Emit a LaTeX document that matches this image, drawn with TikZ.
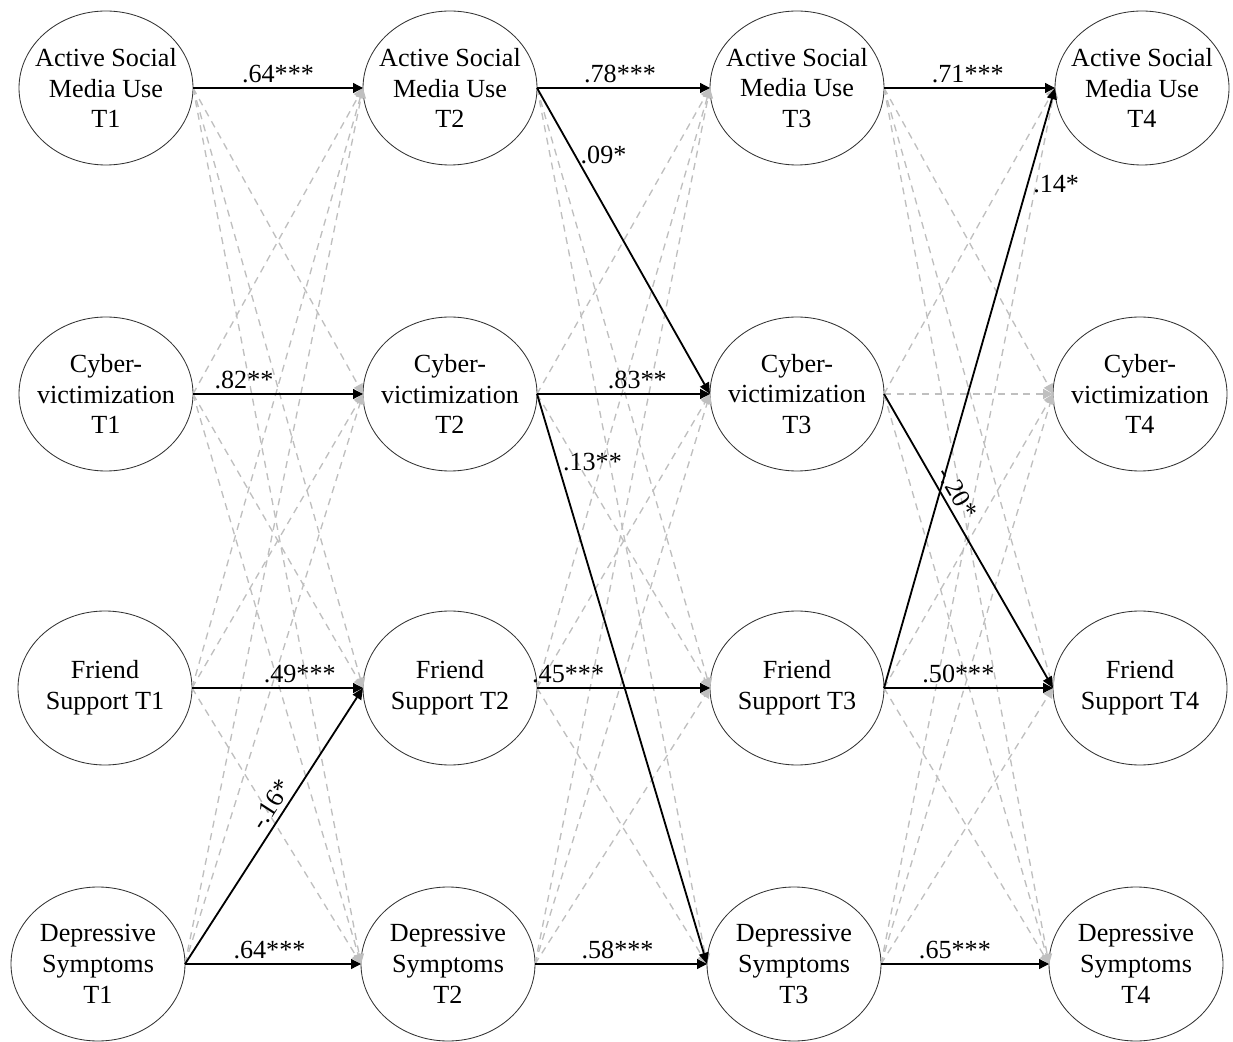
\documentclass[tikz,border=0pt]{standalone}
\usepackage{fontspec}
\setmainfont{Liberation Serif}
\usepackage{tikz}
\usetikzlibrary{positioning, arrows, arrows.meta, shapes.geometric}

\begin{document}
\begin{tikzpicture}[
    every node/.style={font=\fontsize{18.6}{22}\selectfont}, % Times-like text everywhere
    var/.style={draw=black!80, ellipse, minimum width=4.35cm, minimum height=3.85cm,
        inner xsep=-0.45cm, inner ysep=0pt, outer sep=0pt, align=center, line width=0.6pt},
    arpath/.style={-{Triangle[length=7pt, width=7pt]}, line width=0.9pt},
    crosssig/.style={-{Triangle[length=8pt, width=7pt]}, line width=1.3pt},
    crossns/.style={-{Triangle[length=7pt, width=7pt]}, draw=black!25,
        dash pattern=on 5pt off 4pt, line width=0.95pt}
]
    \useasboundingbox (0, 0) rectangle (30.825, -26.05);

    % Wave 1 (left column)
    \node[var] (Asm1) at (2.65, -2.2) {Active Social\\Media Use\\T1};
    \node[var] (Cyb1) at (2.65, -9.85) {Cyber-\\victimization\\T1};
    \node[var] (Fri1) at (2.625, -17.2) {Friend\\Support T1};
    \node[var] (Dep1) at (2.45, -24.1) {Depressive\\Symptoms\\T1};

    % Wave 2
    \node[var] (Asm2) at (11.25, -2.2) {Active Social\\Media Use\\T2};
    \node[var] (Cyb2) at (11.25, -9.85) {Cyber-\\victimization\\T2};
    \node[var] (Fri2) at (11.25, -17.2) {Friend\\Support T2};
    \node[var] (Dep2) at (11.2, -24.1) {Depressive\\Symptoms\\T2};

    % Wave 3
    \node[var] (Asm3) at (19.925, -2.2) {Active Social\\Media Use\\T3};
    \node[var] (Cyb3) at (19.925, -9.85) {Cyber-\\victimization\\T3};
    \node[var] (Fri3) at (19.925, -17.2) {Friend\\Support T3};
    \node[var] (Dep3) at (19.85, -24.1) {Depressive\\Symptoms\\T3};

    % Wave 4 (right column)
    \node[var] (Asm4) at (28.55, -2.2) {Active Social\\Media Use\\T4};
    \node[var] (Cyb4) at (28.5, -9.85) {Cyber-\\victimization\\T4};
    \node[var] (Fri4) at (28.5, -17.2) {Friend\\Support T4};
    \node[var] (Dep4) at (28.4, -24.1) {Depressive\\Symptoms\\T4};

    % 1. Non-significant cross-lagged paths, T1 -> T2 (dashed grey)
    \draw[crossns] (Asm1.east) -- (Cyb2.west);
    \draw[crossns] (Asm1.east) -- (Fri2.west);
    \draw[crossns] (Asm1.east) -- (Dep2.west);
    \draw[crossns] (Cyb1.east) -- (Asm2.west);
    \draw[crossns] (Cyb1.east) -- (Fri2.west);
    \draw[crossns] (Cyb1.east) -- (Dep2.west);
    \draw[crossns] (Fri1.east) -- (Asm2.west);
    \draw[crossns] (Fri1.east) -- (Cyb2.west);
    \draw[crossns] (Fri1.east) -- (Dep2.west);
    \draw[crossns] (Dep1.east) -- (Asm2.west);
    \draw[crossns] (Dep1.east) -- (Cyb2.west);

    % 2. Non-significant cross-lagged paths, T2 -> T3
    \draw[crossns] (Asm2.east) -- (Fri3.west);
    \draw[crossns] (Asm2.east) -- (Dep3.west);
    \draw[crossns] (Cyb2.east) -- (Asm3.west);
    \draw[crossns] (Cyb2.east) -- (Fri3.west);
    \draw[crossns] (Fri2.east) -- (Asm3.west);
    \draw[crossns] (Fri2.east) -- (Cyb3.west);
    \draw[crossns] (Fri2.east) -- (Dep3.west);
    \draw[crossns] (Dep2.east) -- (Asm3.west);
    \draw[crossns] (Dep2.east) -- (Cyb3.west);
    \draw[crossns] (Dep2.east) -- (Fri3.west);

    % 3. Non-significant paths, T3 -> T4 (incl. cyber stability)
    \draw[crossns] (Asm3.east) -- (Cyb4.west);
    \draw[crossns] (Asm3.east) -- (Fri4.west);
    \draw[crossns] (Asm3.east) -- (Dep4.west);
    \draw[crossns] (Cyb3.east) -- (Asm4.west);
    \draw[crossns] (Cyb3.east) -- (Cyb4.west);
    \draw[crossns] (Cyb3.east) -- (Dep4.west);
    \draw[crossns] (Fri3.east) -- (Cyb4.west);
    \draw[crossns] (Fri3.east) -- (Dep4.west);
    \draw[crossns] (Dep3.east) -- (Asm4.west);
    \draw[crossns] (Dep3.east) -- (Cyb4.west);
    \draw[crossns] (Dep3.east) -- (Fri4.west);

    % 4. Stability paths (solid, label above)
    \draw[arpath] (Asm1.east) -- node[pos=0.5, above] {.64***} (Asm2.west);
    \draw[arpath] (Cyb1.east) -- node[pos=0.3, above] {.82**} (Cyb2.west);
    \draw[arpath] (Fri1.east) -- node[pos=0.63, above] {.49***} (Fri2.west);
    \draw[arpath] (Dep1.east) -- node[pos=0.48, above] {.64***} (Dep2.west);

    \draw[arpath] (Asm2.east) -- node[pos=0.48, above] {.78***} (Asm3.west);
    \draw[arpath] (Cyb2.east) -- node[pos=0.58, above] {.83**} (Cyb3.west);
    \draw[arpath] (Fri2.east) -- node[pos=0.18, above] {.45***} (Fri3.west);
    \draw[arpath] (Dep2.east) -- node[pos=0.48, above] {.58***} (Dep3.west);

    \draw[arpath] (Asm3.east) -- node[pos=0.49, above] {.71***} (Asm4.west);
    \draw[arpath] (Fri3.east) -- node[pos=0.44, above] {.50***} (Fri4.west);
    \draw[arpath] (Dep3.east) -- node[pos=0.44, above] {.65***} (Dep4.west);

    % 5. Significant cross-lagged paths (solid, heavier)
    \draw[crosssig] (Dep1.east) -- node[pos=0.55, sloped, above] {-.16*} (Fri2.west);
    \draw[crosssig] (Asm2.east) -- node[pos=0.22, right] {.09*} (Cyb3.west);
    \draw[crosssig] (Cyb2.east) -- node[pos=0.12, right] {.13**} (Dep3.west);
    \draw[crosssig] (Fri3.east) -- node[pos=0.84, right] {.14*} (Asm4.west);
    \draw[crosssig] (Cyb3.east) -- node[pos=0.36, sloped, above] {-.20*} (Fri4.west);

\end{tikzpicture}
\end{document}
